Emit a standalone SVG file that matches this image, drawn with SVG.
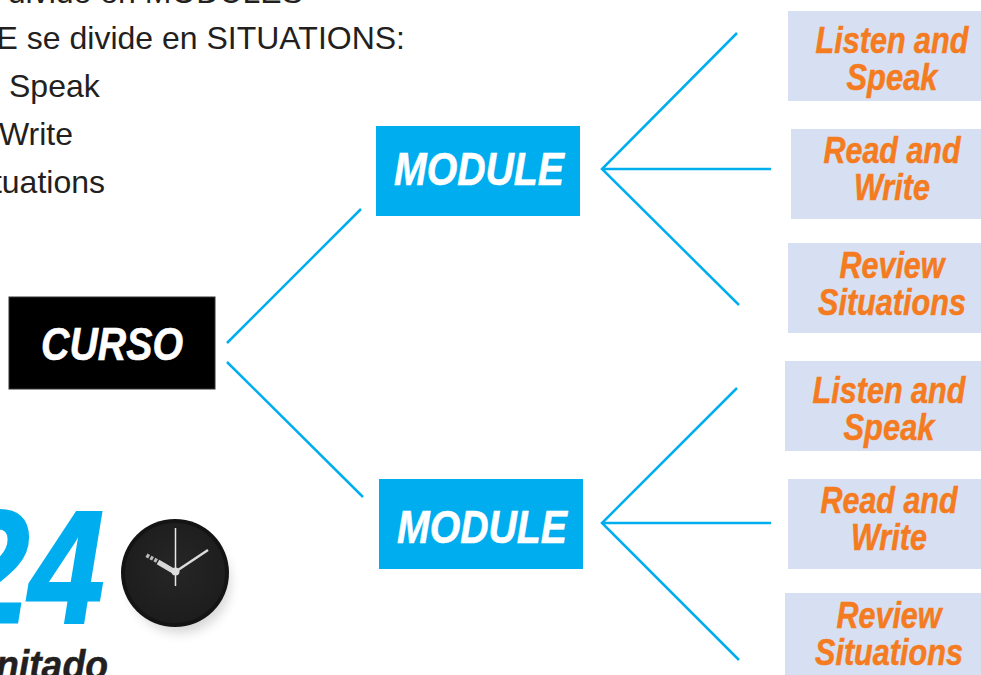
<svg xmlns="http://www.w3.org/2000/svg" width="981" height="675" viewBox="0 0 981 675">
<style>
.body{font:32px "Liberation Sans",Arial,sans-serif;fill:#231f20}
.t{font-family:"Liberation Sans",Arial,sans-serif;font-style:italic;font-weight:700;text-anchor:middle}
.e{text-anchor:end}
.mod{font-size:46px;fill:#fff;stroke:#fff;stroke-width:.6}
.sit{font-size:36px;fill:#f47b20;stroke:#f47b20;stroke-width:.5}
.box{fill:#d6e0f2}
.blue{fill:#00aeef;stroke:#00aeef}
.rect{fill:#00aeef}
.line{fill:none;stroke:#00aeef;stroke-width:2.5}
</style>
<defs>
<filter id="sh" x="-30%" y="-30%" width="160%" height="160%"><feGaussianBlur stdDeviation="6"/></filter>
<radialGradient id="face" cx="50%" cy="45%" r="60%"><stop offset="0" stop-color="#262626"/><stop offset="1" stop-color="#1c1c1c"/></radialGradient>
</defs>
<rect width="981" height="675" fill="#fff"/>
<g id="intro">
<text class="body" x="303" y="3" text-anchor="end">divide en MODULES</text>
<text class="body" x="405" y="49" text-anchor="end">E se divide en SITUATIONS:</text>
<text class="body" x="9" y="97">Speak</text>
<text class="body" x="73" y="145" text-anchor="end">Write</text>
<text class="body" x="105" y="193" text-anchor="end">tuations</text>
</g>
<g id="connectors">
<path class="line" d="M227 343L361 209M227 362L363 497"/>
<path class="line" d="M737 33L602 169L739 305M602 169H771"/>
<path class="line" d="M737 388L602 523L739 660M602 523H771"/>
</g>
<g id="curso">
<rect x="9" y="297" width="206" height="92" fill="#000" stroke="#333" stroke-width="1"/>
<text class="t mod" x="112" y="360" textLength="142" lengthAdjust="spacingAndGlyphs">CURSO</text>
</g>
<g id="module-1"><rect class="rect" x="376" y="126" width="204" height="90"/><text class="t mod" x="479" y="185" textLength="170" lengthAdjust="spacingAndGlyphs">MODULE</text></g>
<g id="module-2"><rect class="rect" x="379" y="479" width="204" height="90"/><text class="t mod" x="482" y="543" textLength="170" lengthAdjust="spacingAndGlyphs">MODULE</text></g>
<g id="sit-1"><rect class="box" x="788" y="11" width="193" height="90"/><text class="t sit" x="892" y="53" textLength="153" lengthAdjust="spacingAndGlyphs">Listen and</text><text class="t sit" x="892" y="90" textLength="91" lengthAdjust="spacingAndGlyphs">Speak</text></g>
<g id="sit-2"><rect class="box" x="791" y="129" width="190" height="90"/><text class="t sit" x="892" y="163" textLength="137" lengthAdjust="spacingAndGlyphs">Read and</text><text class="t sit" x="892" y="200" textLength="76" lengthAdjust="spacingAndGlyphs">Write</text></g>
<g id="sit-3"><rect class="box" x="788" y="243" width="193" height="90"/><text class="t sit" x="892" y="278" textLength="105" lengthAdjust="spacingAndGlyphs">Review</text><text class="t sit" x="892" y="315" textLength="148" lengthAdjust="spacingAndGlyphs">Situations</text></g>
<g id="sit-4"><rect class="box" x="785" y="361" width="196" height="90"/><text class="t sit" x="889" y="403" textLength="153" lengthAdjust="spacingAndGlyphs">Listen and</text><text class="t sit" x="889" y="440" textLength="91" lengthAdjust="spacingAndGlyphs">Speak</text></g>
<g id="sit-5"><rect class="box" x="788" y="479" width="193" height="90"/><text class="t sit" x="889" y="513" textLength="137" lengthAdjust="spacingAndGlyphs">Read and</text><text class="t sit" x="889" y="550" textLength="76" lengthAdjust="spacingAndGlyphs">Write</text></g>
<g id="sit-6"><rect class="box" x="785" y="593" width="196" height="82"/><text class="t sit" x="889" y="628" textLength="105" lengthAdjust="spacingAndGlyphs">Review</text><text class="t sit" x="889" y="665" textLength="148" lengthAdjust="spacingAndGlyphs">Situations</text></g>
<g id="duration">
<text class="t e blue" transform="translate(104 622) scale(.84 1)" font-size="160" stroke-width="3">24</text>
<text class="t" x="52" y="679" font-size="40" fill="#231f20" stroke="#231f20" stroke-width=".5" textLength="112" lengthAdjust="spacingAndGlyphs">nitado</text>
</g>
<g id="clock">
<circle cx="180" cy="583" r="50" fill="#000" opacity=".16" filter="url(#sh)"/>
<circle cx="175" cy="573" r="54" fill="#141414"/>
<circle cx="175" cy="573" r="50" fill="url(#face)"/>
<path d="M175.500 528V586" stroke="#e8e8e8" stroke-width="1.500" fill="none"/>
<path d="M175 572L208 550" stroke="#dcdcdc" stroke-width="2.500" fill="none"/>
<path d="M175 572L158 562" stroke="#d8d8d8" stroke-width="5" fill="none"/>
<path d="M157 561L146 555" stroke="#bbb" stroke-width="4" stroke-dasharray="3 1.500" fill="none"/>
<circle cx="175.500" cy="571.500" r="4" fill="#ddd"/>
</g>
</svg>
